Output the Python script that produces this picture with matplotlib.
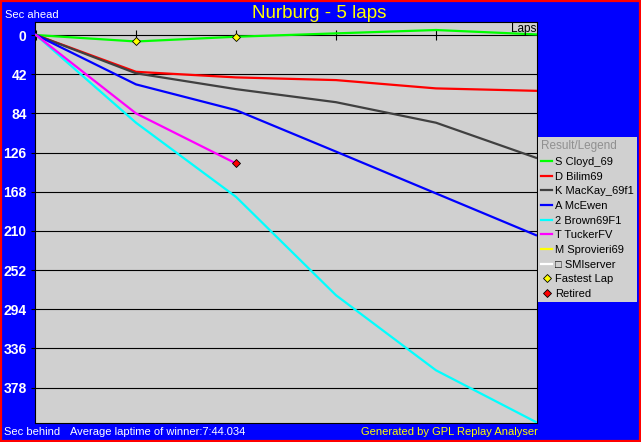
import matplotlib
matplotlib.use('Agg')
import matplotlib.pyplot as plt
from matplotlib.lines import Line2D
from matplotlib.patches import Rectangle

# data (seconds behind average winner pace)
laps = [0, 1, 2, 3, 4, 5]
cloyd = [0, 6.9, 1.8, -1.8, -5.4, -0.7]
bilim = [0, 39.4, 45.4, 48.3, 57.2, 59.8]
mackay = [0, 41.0, 58.0, 72.0, 94.0, 131.6]
mcewen = [0, 52.9, 80.5, 125.0, 169.8, 214.6]
brown = [0, 94.0, 173.5, 279.0, 359.5, 415.0]
tucker_laps = [0, 1, 2]
tucker = [0, 84.0, 137.7]
fastest_laps = [1, 2]
yticks = [0, 42, 84, 126, 168, 210, 252, 294, 336, 378]
xticks = [0, 1, 2, 3, 4]

drivers = ['S Cloyd_69', 'D Bilim69', 'K MacKay_69f1', 'A McEwen',
           '2 Brown69F1', 'T TuckerFV', 'M Sprovieri69', '\u25a1 SMIserver']
colors = ['#00ff00', '#ff0000', '#404040', '#0000ff',
          '#00ffff', '#ff00ff', '#ffff00', '#ffffff']

plt.rcParams['font.family'] = ['Liberation Sans', 'DejaVu Sans']
W, H = 641, 442
fig = plt.figure(figsize=(W / 100, H / 100), dpi=100)
fig.patch.set_facecolor('#0000ff')
# red window border
fig.patches.append(Rectangle((1 / W, 1 / H), (W - 2) / W, (H - 2) / H,
                             transform=fig.transFigure, fill=False,
                             edgecolor='#ff0000', lw=1.6, zorder=10))

ax = fig.add_axes([35 / W, (H - 423) / H, 502 / W, 401 / H])
ax.set_facecolor('#d0d0d0')
for s in ax.spines.values():
    s.set_color('black')
    s.set_linewidth(0.8)

ax.set_xlim(-0.01, 5.01)
ax.set_ylim(416, -14)
ax.set_yticks(yticks)
ax.set_yticklabels([str(v) for v in yticks], fontsize=10, fontweight='bold', color='white')
ax.tick_params(axis='y', direction='out', length=3, width=0.8, color='black', pad=3)
ax.set_xticks([])
for v in yticks:
    ax.axhline(v, color='black', lw=0.8, zorder=1)
ax.plot(xticks, [0] * len(xticks), ls='none', marker='|', ms=7, mew=0.8, color='black', zorder=2)

series = [cloyd, bilim, mackay, mcewen, brown]
for vals, c in zip(series, colors):
    ax.plot(laps, vals, color=c, lw=1.6, zorder=3)
ax.plot(tucker_laps, tucker, color=colors[5], lw=1.6, zorder=3)

ax.plot(fastest_laps, [cloyd[l] for l in fastest_laps], ls='none', marker='D', ms=4.5,
        mfc='#ffff00', mec='black', mew=0.6, zorder=5)
ax.plot([tucker_laps[-1]], [tucker[-1]], ls='none', marker='D', ms=4.5,
        mfc='#ff0000', mec='black', mew=0.6, zorder=5)

ax.text(0.999, 0.997, 'Laps', transform=ax.transAxes, ha='right', va='top',
        fontsize=8.5, color='black', zorder=6)

# legend
handles = [Line2D([], [], color=c, lw=1.6) for c in colors]
handles.append(Line2D([], [], ls='none', marker='D', ms=4, mfc='#ffff00', mec='black', mew=0.6))
handles.append(Line2D([], [], ls='none', marker='D', ms=4, mfc='#ff0000', mec='black', mew=0.6))
labels = drivers + ['Fastest Lap', 'Retired']
leg = fig.legend(handles, labels, title='Result/Legend', loc='upper left',
                 bbox_to_anchor=(538 / W, 1 - 137 / H), fontsize=8, title_fontsize=8.5,
                 frameon=True, fancybox=False, framealpha=1, borderaxespad=0,
                 borderpad=0.3, handlelength=1.0, handletextpad=0.25,
                 labelspacing=0.42, alignment='left')
leg.get_frame().set_facecolor('#d0d0d0')
leg.get_frame().set_edgecolor('none')
leg.get_title().set_color('#909090')

fig.text(319 / W, 1 - 14 / H, 'Nurburg - 5 laps', ha='center', va='center',
         fontsize=13.5, color='#ffff00')
fig.text(5 / W, 1 - 15 / H, 'Sec ahead', ha='left', va='center', fontsize=8, color='white')
fig.text(4 / W, 1 - 432 / H, 'Sec behind', ha='left', va='center', fontsize=8, color='white')
fig.text(70 / W, 1 - 432 / H, 'Average laptime of winner:7:44.034', ha='left', va='center',
         fontsize=8, color='white')
fig.text(538 / W, 1 - 432 / H, 'Generated by GPL Replay Analyser', ha='right', va='center',
         fontsize=8, color='#ffff00')

fig.savefig('out.png', dpi=100, facecolor=fig.get_facecolor())
